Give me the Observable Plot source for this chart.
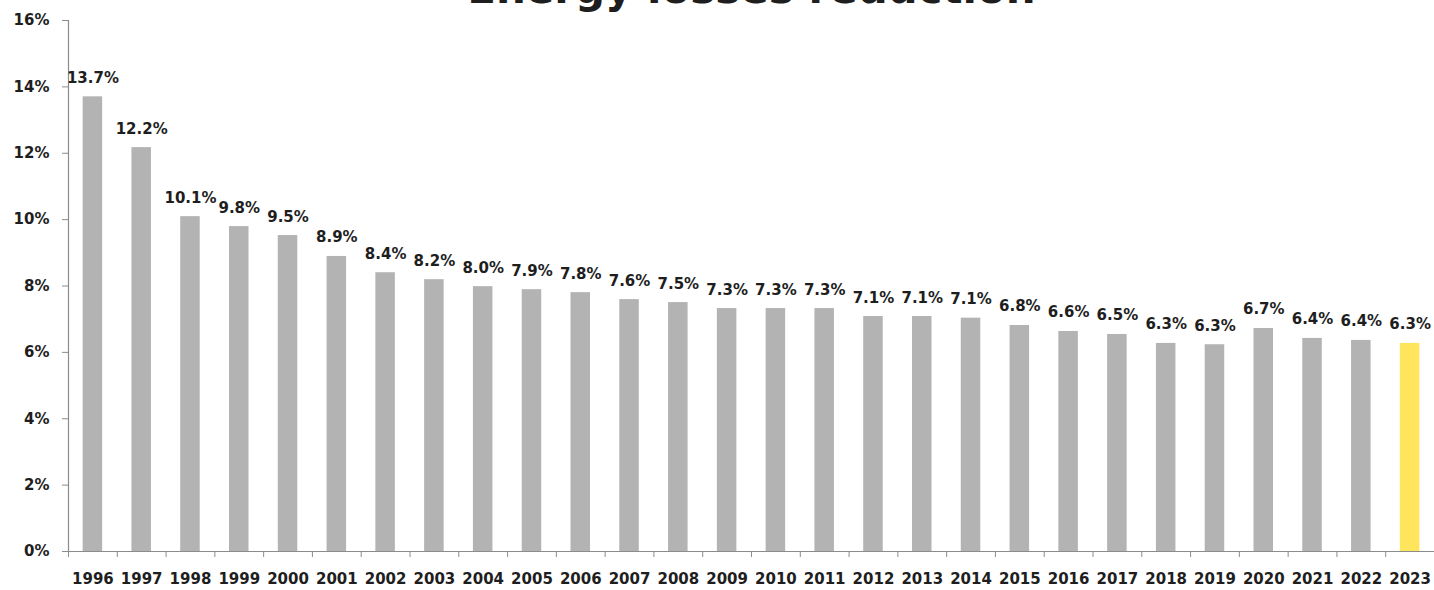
<!DOCTYPE html>
<html>
<head>
<meta charset="utf-8">
<script src="https://cdn.jsdelivr.net/npm/d3@7"></script>
<script src="https://cdn.jsdelivr.net/npm/@observablehq/plot@0.6"></script>
<style>
  html, body { margin: 0; padding: 0; background: #fff; overflow: hidden; }
  #chart svg { display: block; }
</style>
</head>
<body>
<div id="chart"></div>
<script>
const title = "Energy losses reduction";
const years = ["1996","1997","1998","1999","2000","2001","2002","2003","2004","2005","2006","2007","2008","2009","2010","2011","2012","2013","2014","2015","2016","2017","2018","2019","2020","2021","2022","2023"];
const values = [13.70,12.17,10.09,9.79,9.52,8.89,8.40,8.19,7.98,7.89,7.80,7.59,7.50,7.32,7.32,7.32,7.08,7.08,7.03,6.81,6.63,6.54,6.27,6.23,6.72,6.42,6.36,6.27];
const labels = ["13.7%","12.2%","10.1%","9.8%","9.5%","8.9%","8.4%","8.2%","8.0%","7.9%","7.8%","7.6%","7.5%","7.3%","7.3%","7.3%","7.1%","7.1%","7.1%","6.8%","6.6%","6.5%","6.3%","6.3%","6.7%","6.4%","6.4%","6.3%"];
const highlightYear = "2023";
const yTicks = [0,2,4,6,8,10,12,14,16];

const data = years.map((y, i) => ({year: y, value: values[i], label: labels[i], hl: y === highlightYear}));

const W = 1434, H = 590, ML = 68, MR = 0;
const step = (W - ML - MR) / years.length;
const font = "'DejaVu Sans', Verdana, sans-serif";
const ink = "#1e1e1e";
const axisGray = "#8c8c8c";

const chart = Plot.plot({
  width: W,
  height: H,
  marginLeft: ML,
  marginRight: MR,
  marginTop: 20,
  marginBottom: 39,
  style: {fontFamily: font, background: "#fff", overflow: "visible"},
  x: {domain: years, paddingInner: 0.6, paddingOuter: 0.3, round: false, label: null},
  y: {domain: [0, 16], label: null},
  marks: [
    Plot.barY(data, {x: "year", y: "value", fill: d => d.hl ? "#FFE55B" : "#B3B3B3"}),
    Plot.ruleY([0], {stroke: axisGray, strokeWidth: 1.2}),
    Plot.ruleX([years[0]], {dx: -step / 2, y1: 0, y2: 16, stroke: axisGray, strokeWidth: 1.2}),
    Plot.axisY({ticks: yTicks, tickFormat: d => d + "%", tickSize: 6, tickPadding: 13, stroke: axisGray, fontSize: 15, fontWeight: "bold", fill: ink, label: null}),
    Plot.axisX({tickSize: 6, tickFormat: () => "", dx: -step / 2, stroke: axisGray, label: null}),
    Plot.axisX({tickSize: 0, tickPadding: 22, fontSize: 15, fontWeight: "bold", fill: ink, label: null}),
    Plot.text(data, {x: "year", y: "value", text: "label", lineAnchor: "bottom", dy: -14, fontSize: 15, fontWeight: "bold", fill: ink}),
    Plot.text([title], {frameAnchor: "top", lineAnchor: "bottom", dy: -18, fontSize: 42, fontWeight: "bold", fill: ink})
  ]
});
document.getElementById("chart").appendChild(chart);
</script>
</body>
</html>
